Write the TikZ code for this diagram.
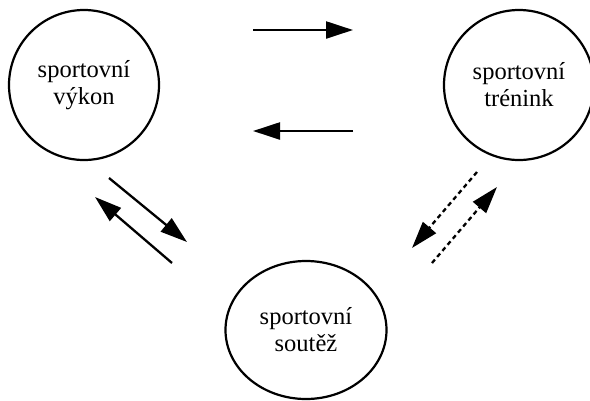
\documentclass[tikz,border=0pt]{standalone}
\usepackage{fontspec}
\setmainfont{Liberation Serif}
\usetikzlibrary{arrows.meta,shapes.geometric}
\begin{document}
\begin{tikzpicture}[x=1pt,y=-1pt,
  lbl/.style={align=center, font=\fontsize{24.5}{27}\selectfont},
  bubble/.style={lbl, draw, line width=2.2pt, circle, minimum size=150pt, inner sep=0pt},
  oval/.style={lbl, draw, line width=2.2pt, ellipse, minimum width=161pt, minimum height=138pt, inner sep=0pt},
  flow/.style={line width=2.3pt, -{Triangle[length=27pt,width=17pt]}},
  dflow/.style={flow, dash pattern=on 4.5pt off 3.5pt}]
\useasboundingbox (0,0) rectangle (590,400);
\node[bubble] (vykon) at (84,85) {sportovní\\výkon};
\node[bubble] (trenink) at (519,85) {sportovní\\trénink};
\node[oval] (soutez) at (306,330) {sportovní\\soutěž};
% arrow end points
\coordinate (a1s) at (253,30);  \coordinate (a1e) at (353,30);
\coordinate (a2s) at (353,131); \coordinate (a2e) at (253,131);
\coordinate (b1s) at (109,178); \coordinate (b1e) at (187,242);
\coordinate (b2s) at (172,263); \coordinate (b2e) at (95,197);
\coordinate (c1s) at (477,172); \coordinate (c1e) at (412,248);
\coordinate (c2s) at (432,263); \coordinate (c2e) at (497,187);
\draw[flow] (a1s) -- (a1e);
\draw[flow] (a2s) -- (a2e);
\draw[flow] (b1s) -- (b1e);
\draw[flow] (b2s) -- (b2e);
\draw[dflow] (c1s) -- (c1e);
\draw[dflow] (c2s) -- (c2e);
\end{tikzpicture}
\end{document}
